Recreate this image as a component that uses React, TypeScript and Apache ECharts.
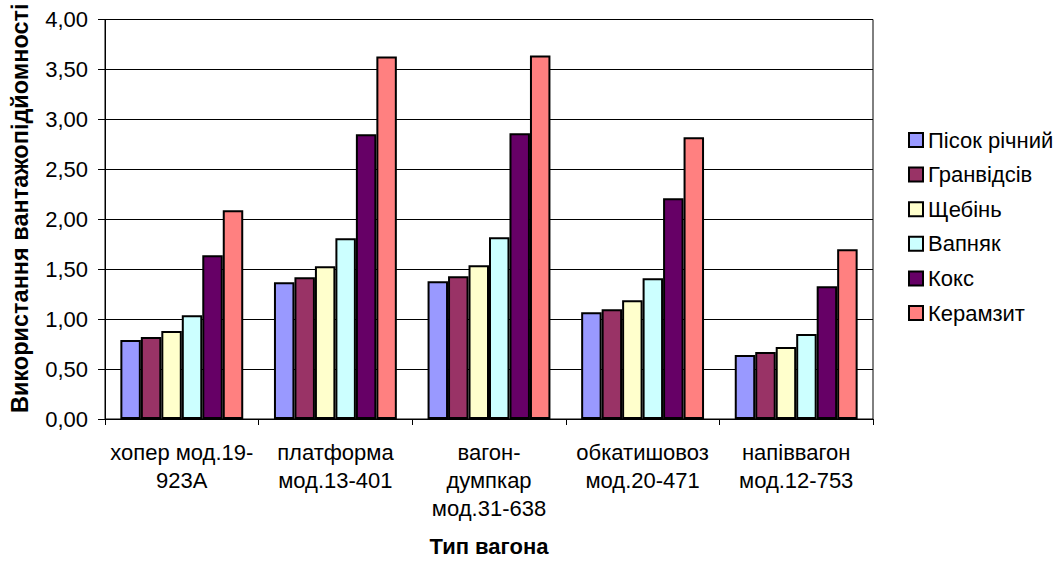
import React, { useEffect, useRef } from "react";
import * as echarts from "echarts";

const categories = [
  "хопер мод.19-\n923А",
  "платформа\nмод.13-401",
  "вагон-\nдумпкар\nмод.31-638",
  "обкатишовоз\nмод.20-471",
  "напіввагон\nмод.12-753",
];

const seriesNames = ["Пісок річний", "Гранвідсів", "Щебінь", "Вапняк", "Кокс", "Керамзит"];
const seriesColors = ["#9999FF", "#993366", "#FFFFCC", "#CCFFFF", "#660066", "#FF8080"];

const pisok = [0.79, 1.37, 1.38, 1.07, 0.64];
const granvidsiv = [0.82, 1.42, 1.43, 1.10, 0.67];
const shchebin = [0.88, 1.53, 1.54, 1.19, 0.72];
const vapnyak = [1.04, 1.81, 1.82, 1.41, 0.85];
const koks = [1.64, 2.85, 2.86, 2.21, 1.33];
const keramzyt = [2.09, 3.63, 3.64, 2.82, 1.70];

const seriesValues = [pisok, granvidsiv, shchebin, vapnyak, koks, keramzyt];

const yAxisTitle = "Використання вантажопідйомності";
const xAxisTitle = "Тип вагона";

const FONT = "Arial, 'Liberation Sans', sans-serif";

export default function App() {
  const ref = useRef<HTMLDivElement>(null);
  useEffect(() => {
    if (!ref.current) return;
    const chart = echarts.init(ref.current, undefined, { renderer: "svg" });
    chart.setOption({
      animation: false,
      backgroundColor: "#ffffff",
      textStyle: { fontFamily: FONT },
      grid: {
        left: 105,
        top: 19.5,
        right: 180,
        bottom: 140,
        show: true,
        borderColor: "#000",
        borderWidth: 1,
        backgroundColor: "transparent",
      },
      legend: {
        orient: "vertical",
        left: 903,
        top: 124,
        itemWidth: 14,
        itemHeight: 14,
        itemGap: 12.6,
        icon: "rect",
        itemStyle: { borderColor: "#000", borderWidth: 2 },
        textStyle: { fontSize: 22, color: "#000", fontFamily: FONT, lineHeight: 22 },
        data: seriesNames,
      },
      xAxis: {
        type: "category",
        data: categories,
        name: xAxisTitle,
        nameLocation: "middle",
        nameGap: 116,
        nameTextStyle: { fontSize: 22, fontWeight: "bold", color: "#000", fontFamily: FONT },
        axisLine: { lineStyle: { color: "#000", width: 1 } },
        axisTick: { show: true, length: 6, lineStyle: { color: "#000" } },
        axisLabel: {
          interval: 0,
          fontSize: 22,
          lineHeight: 28,
          margin: 19,
          color: "#000",
          fontFamily: FONT,
        },
      },
      yAxis: {
        type: "value",
        min: 0,
        max: 4,
        interval: 0.5,
        name: yAxisTitle,
        nameLocation: "middle",
        nameGap: 73,
        nameTextStyle: {
          fontSize: 23.5,
          fontWeight: "bold",
          color: "#000",
          fontFamily: FONT,
          padding: [0, 0, 0, 22],
        },
        axisLine: { show: true, lineStyle: { color: "#000", width: 1 } },
        axisTick: { show: true, length: 7, lineStyle: { color: "#000" } },
        splitLine: { show: true, lineStyle: { color: "#000", width: 1 } },
        axisLabel: {
          fontSize: 22,
          margin: 17,
          color: "#000",
          fontFamily: FONT,
          formatter: (v: number) => v.toFixed(2).replace(".", ","),
        },
      },
      series: seriesNames.map((name, i) => ({
        name,
        type: "bar",
        data: seriesValues[i],
        barGap: "0%",
        barCategoryGap: "20%",
        itemStyle: { color: seriesColors[i], borderColor: "#000", borderWidth: 2 },
      })),
    });
    return () => chart.dispose();
  }, []);
  return (
    <div
      ref={ref}
      style={{ position: "fixed", left: 0, top: 0, width: 1053, height: 562, background: "#fff" }}
    />
  );
}
